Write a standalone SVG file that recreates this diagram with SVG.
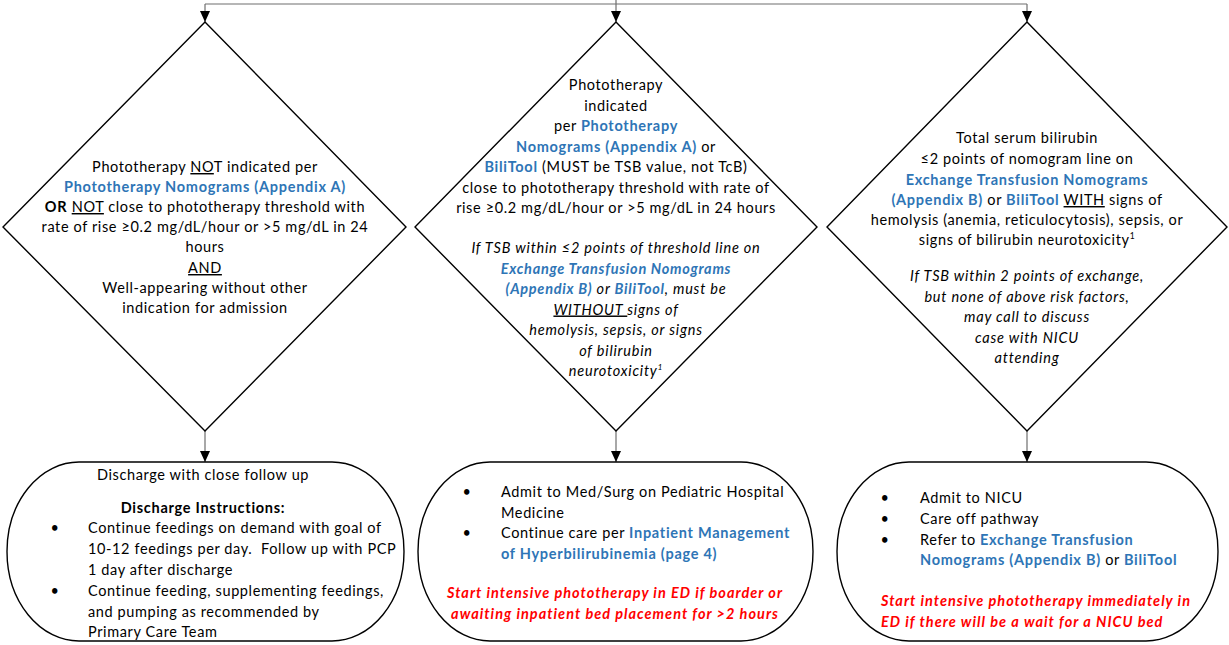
<svg xmlns="http://www.w3.org/2000/svg" width="1229" height="645" viewBox="0 0 1229 645">
<defs>
<marker id="ah" viewBox="0 0 11 10" refX="11" refY="5" markerWidth="11" markerHeight="10" markerUnits="userSpaceOnUse" orient="auto">
<path d="M0,0 L11,5 L0,10 z" fill="#000"/>
</marker>
<style>
text{font-family:Lato,"Liberation Sans",sans-serif;font-size:14.5px;letter-spacing:0.62px;fill:#000}
.c{text-anchor:middle}
.b{fill:#2E75B6;font-weight:bold;letter-spacing:0.72px}
.bo{font-weight:bold;letter-spacing:0.72px}
.i{font-style:italic;letter-spacing:0.78px}
.u{text-decoration:underline}
.r{fill:#FF0000;font-weight:bold;font-style:italic;letter-spacing:1px}
.sup{font-size:8.5px}
.shape{fill:#fff;stroke:#000;stroke-width:1.4}
.con{fill:none;stroke:#6e6e6e;stroke-width:1.2}
</style>
</defs>
<rect width="1229" height="645" fill="#fff"/>
<g id="connectors">
<path class="con" d="M616,0 V4" stroke="#000"/>
<path class="con" d="M205,4 H1027" stroke-width="2" stroke="#999"/>
<path class="con" d="M205,4 V22" marker-end="url(#ah)"/>
<path class="con" d="M616,4 V22" marker-end="url(#ah)"/>
<path class="con" d="M1027,4 V22" marker-end="url(#ah)"/>
<path class="con" d="M205,431 V462" marker-end="url(#ah)"/>
<path class="con" d="M616,431 V462" marker-end="url(#ah)"/>
<path class="con" d="M1027,431 V462" marker-end="url(#ah)"/>
</g>
<g id="d1">
<polygon class="shape" points="205,22 406,227 205,431 3,227"/>
<text class="c" x="205" y="172">Phototherapy <tspan class="u">NO</tspan>T indicated per</text>
<text class="c" x="205" y="192"><tspan class="b">Phototherapy Nomograms (Appendix A)</tspan></text>
<text class="c" x="205" y="212"><tspan class="bo">OR</tspan> <tspan class="u">NOT</tspan> close to phototherapy threshold with</text>
<text class="c" x="205" y="232">rate of rise ≥0.2 mg/dL/hour or &gt;5 mg/dL in 24</text>
<text class="c" x="205" y="252">hours</text>
<text class="c" x="205" y="273"><tspan class="u">AND</tspan></text>
<text class="c" x="205" y="293">Well-appearing without other</text>
<text class="c" x="205" y="313">indication for admission</text>
</g>
<g id="d2">
<polygon class="shape" points="616,22 817,227 616,431 415,227"/>
<text class="c" x="616" y="90">Phototherapy</text>
<text class="c" x="616" y="110.5">indicated</text>
<text class="c" x="616" y="131">per <tspan class="b">Phototherapy</tspan></text>
<text class="c" x="616" y="151.5"><tspan class="b">Nomograms (Appendix A)</tspan> or</text>
<text class="c" x="616" y="172"><tspan class="b">BiliTool</tspan> (MUST be TSB value, not TcB)</text>
<text class="c" x="616" y="192.5">close to phototherapy threshold with rate of</text>
<text class="c" x="616" y="213">rise ≥0.2 mg/dL/hour or &gt;5 mg/dL in 24 hours</text>
<text class="c i" x="616" y="253">If TSB within ≤2 points of threshold line on</text>
<text class="c i" x="616" y="273.5"><tspan class="b">Exchange Transfusion Nomograms</tspan></text>
<text class="c i" x="616" y="294"><tspan class="b">(Appendix B)</tspan> or <tspan class="b">BiliTool</tspan>, must be</text>
<text class="c i" x="616" y="314.5"><tspan class="u">WITHOUT </tspan>signs of</text>
<text class="c i" x="616" y="335">hemolysis, sepsis, or signs</text>
<text class="c i" x="616" y="355.5">of bilirubin</text>
<text class="c i" x="616" y="376">neurotoxicity<tspan class="sup" dy="-6">1</tspan></text>
</g>
<g id="d3">
<polygon class="shape" points="1027,22 1227,227 1027,431 827,227"/>
<text class="c" x="1027" y="143">Total serum bilirubin</text>
<text class="c" x="1027" y="164">≤2 points of nomogram line on</text>
<text class="c" x="1027" y="184.5"><tspan class="b">Exchange Transfusion Nomograms</tspan></text>
<text class="c" x="1027" y="205"><tspan class="b">(Appendix B)</tspan> or <tspan class="b">BiliTool</tspan> <tspan class="u">WITH</tspan> signs of</text>
<text class="c" x="1027" y="225">hemolysis (anemia, reticulocytosis), sepsis, or</text>
<text class="c" x="1027" y="245">signs of bilirubin neurotoxicity<tspan class="sup" dy="-6">1</tspan></text>
<text class="c i" x="1027" y="280.5">If TSB within 2 points of exchange,</text>
<text class="c i" x="1027" y="301.5">but none of above risk factors,</text>
<text class="c i" x="1027" y="322">may call to discuss</text>
<text class="c i" x="1027" y="342.5">case with NICU</text>
<text class="c i" x="1027" y="363">attending</text>
</g>
<g id="b1">
<rect class="shape" x="7" y="462" width="397" height="179" rx="72" ry="89.5"/>
<text class="c" x="203" y="480">Discharge with close follow up</text>
<text class="c bo" x="203" y="513">Discharge Instructions:</text>
<text class="c" x="55" y="533">•</text>
<text x="88" y="533">Continue feedings on demand with goal of</text>
<text x="88" y="554">10-12 feedings per day.&#160; Follow up with PCP</text>
<text x="88" y="575">1 day after discharge</text>
<text class="c" x="55" y="596">•</text>
<text x="88" y="596">Continue feeding, supplementing feedings,</text>
<text x="88" y="616.5">and pumping as recommended by</text>
<text x="88" y="637">Primary Care Team</text>
</g>
<g id="b2">
<rect class="shape" x="418" y="462" width="395" height="179" rx="72" ry="89.5"/>
<text class="c" x="467" y="497">•</text>
<text x="501" y="497">Admit to Med/Surg on Pediatric Hospital</text>
<text x="501" y="517.5">Medicine</text>
<text class="c" x="467" y="538">•</text>
<text x="501" y="538">Continue care per <tspan class="b">Inpatient Management</tspan></text>
<text x="501" y="558.5"><tspan class="b">of Hyperbilirubinemia (page 4)</tspan></text>
<text class="c r" x="615" y="598">Start intensive phototherapy in ED if boarder or</text>
<text class="c r" x="615" y="618.5">awaiting inpatient bed placement for &gt;2 hours</text>
</g>
<g id="b3">
<rect class="shape" x="837" y="462" width="381" height="179" rx="72" ry="89.5"/>
<text class="c" x="885" y="503">•</text>
<text x="920" y="503">Admit to NICU</text>
<text class="c" x="885" y="524">•</text>
<text x="920" y="524">Care off pathway</text>
<text class="c" x="885" y="544.5">•</text>
<text x="920" y="544.5">Refer to <tspan class="b">Exchange Transfusion</tspan></text>
<text x="920" y="565"><tspan class="b">Nomograms (Appendix B)</tspan> or <tspan class="b">BiliTool</tspan></text>
<text class="r" x="881" y="606">Start intensive phototherapy immediately in</text>
<text class="r" x="881" y="627">ED if there will be a wait for a NICU bed</text>
</g>
</svg>
